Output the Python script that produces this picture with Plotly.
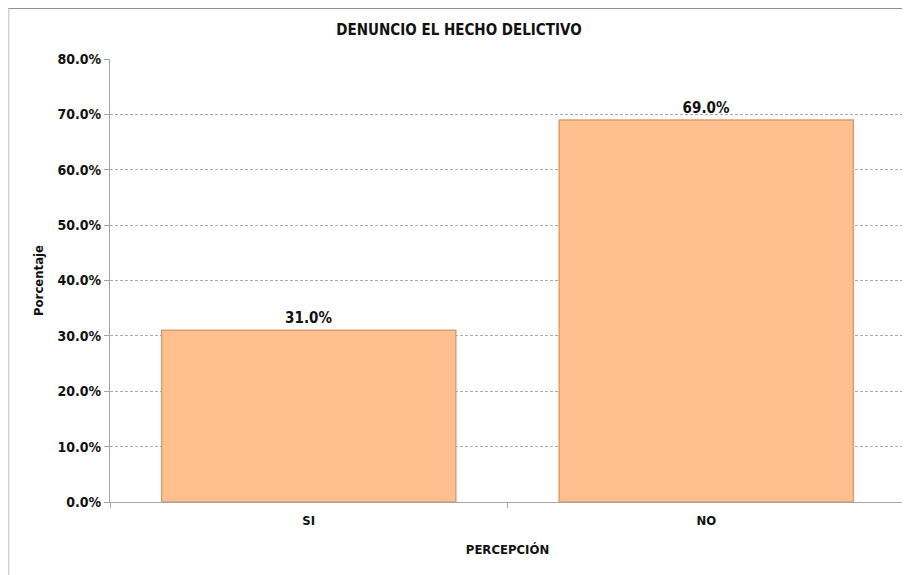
import plotly.graph_objects as go

categories = ["SI", "NO"]
values = [31.0, 69.0]
y_ticks = [0, 10, 20, 30, 40, 50, 60, 70, 80]
y_tick_labels = [f"{v:.1f}%" for v in y_ticks]

FONT = "Liberation Sans Narrow, DejaVu Sans Condensed, Arial Narrow, sans-serif"

fig = go.Figure()
fig.add_trace(go.Bar(
    x=categories,
    y=values,
    width=0.74,
    marker=dict(color="#FFBF8E", line=dict(color="#D9A06F", width=1.5)),
    text=[f"<b>{v:.1f}%</b>" for v in values],
    textposition="outside",
    textfont=dict(family=FONT, size=15, color="#111111"),
    cliponaxis=False,
))

# page has an 8px body margin, so the figure is offset by 8px
W, H = 902, 567
L, R, T, B = 102, 5, 51, 73
pw, ph = W - L - R, H - T - B

fig.update_layout(
    width=W, height=H,
    margin=dict(l=L, r=R, t=T, b=B),
    plot_bgcolor="white", paper_bgcolor="white",
    font=dict(family=FONT, color="#111111"),
    title=dict(text="<b>DENUNCIO EL HECHO DELICTIVO</b>", x=0.5, xanchor="center",
               y=1 - 22 / H, yanchor="middle",
               font=dict(family=FONT, size=15, color="#111111")),
    showlegend=False,
    xaxis=dict(
        title=dict(text="<b>PERCEPCIÓN</b>", font=dict(family=FONT, size=13), standoff=18),
        showline=True, linecolor="#A6A6A6", linewidth=1,
        ticks="outside", tickson="boundaries", ticklen=5, tickcolor="#A6A6A6",
        ticklabelstandoff=6,
        tickfont=dict(family=FONT, size=13),
        ticktext=[f"<b>{c}</b>" for c in categories], tickvals=categories,
        showgrid=False,
    ),
    yaxis=dict(
        title=dict(text="<b>Porcentaje</b>", font=dict(family=FONT, size=13), standoff=10),
        range=[0, 80],
        tickvals=y_ticks, ticktext=[f"<b>{t}</b>" for t in y_tick_labels],
        tickfont=dict(family=FONT, size=14),
        showline=True, linecolor="#A6A6A6", linewidth=1,
        ticks="outside", ticklen=5, tickcolor="#A6A6A6",
        showgrid=True, gridcolor="#ABABAB", griddash="3px,2px", gridwidth=1,
        zeroline=False,
    ),
)

# outer chart border (top and left edges visible)
x_left = -L / pw
y_top = 1 + T / ph
fig.add_shape(type="line", xref="paper", yref="paper", x0=x_left, x1=1.2, y0=y_top - 0.001, y1=y_top - 0.001,
              line=dict(color="#8C8C8C", width=1))
fig.add_shape(type="line", xref="paper", yref="paper", x0=x_left + 0.001, x1=x_left + 0.001, y0=y_top, y1=-0.3,
              line=dict(color="#BFBFBF", width=1))

fig.write_html("out.html")
